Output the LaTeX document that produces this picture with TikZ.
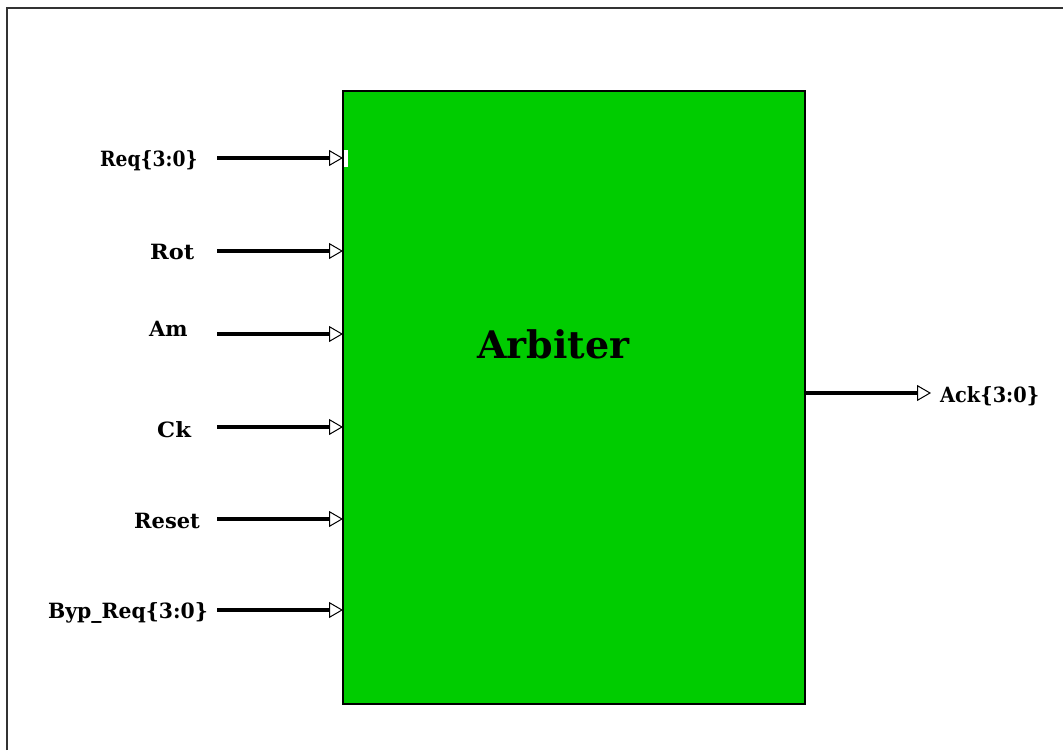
\documentclass[tikz,border=0pt]{standalone}
\usepackage{fontspec}
\setmainfont{DejaVu Serif}
\usetikzlibrary{arrows.meta}
\definecolor{boxgreen}{RGB}{0,204,0}
\tikzset{
  sig/.style={line width=3.2pt, -{Triangle[open,length=14pt,width=16pt,line width=1pt,fill=white]}},
  lbl/.style={anchor=base west, inner sep=0pt, font=\bfseries\fontsize{21}{21}\selectfont},
  blk/.style={draw=black, line width=2pt, fill=boxgreen},
}
\begin{document}
\begin{tikzpicture}[x=1pt,y=-1pt]
\useasboundingbox (0,0) rectangle (1063,750);
\draw[line width=2pt, black!80] (6.5,750) -- (6.5,7.5) -- (1063,7.5);
\draw[blk] (343,91) rectangle (805,704);
\node[anchor=base west, inner sep=0pt, font=\bfseries\fontsize{38}{38}\selectfont] (arb) at (477,358) {Arbiter};
\fill[white] (344,150) rectangle (348,166.5);
% ports on box
\coordinate (pReq) at (343,158);
\coordinate (pRot) at (343,251);
\coordinate (pAm) at (343,334);
\coordinate (pCk) at (343,427);
\coordinate (pRes) at (343,519);
\coordinate (pByp) at (343,610);
\coordinate (pAckS) at (805,393);
\coordinate (pAckE) at (931,393);
\coordinate (sReq) at (217,158);
\coordinate (sRot) at (217,251);
\coordinate (sAm) at (217,334);
\coordinate (sCk) at (217,427);
\coordinate (sRes) at (217,519);
\coordinate (sByp) at (217,610);
% labels
\node[lbl] (lReq) at (100,166) {\scalebox{0.89}[1]{Req\{3:0\}}};
\node[lbl] (lRot) at (150,259) {\scalebox{1.07}[1]{Rot}};
\node[lbl] (lAm) at (149,336) {Am};
\node[lbl] (lCk) at (157,437) {\scalebox{1.08}[1]{Ck}};
\node[lbl] (lRes) at (134,528) {Reset};
\node[lbl] (lByp) at (48,618) {\scalebox{0.97}[1]{Byp\_Req\{3:0\}}};
\node[lbl] (lAck) at (940,402) {\scalebox{0.92}[1]{Ack\{3:0\}}};
% connectors
\draw[sig] (sReq) -- (pReq);
\draw[sig] (sRot) -- (pRot);
\draw[sig] (sAm) -- (pAm);
\draw[sig] (sCk) -- (pCk);
\draw[sig] (sRes) -- (pRes);
\draw[sig] (sByp) -- (pByp);
\draw[sig] (pAckS) -- (pAckE);
\end{tikzpicture}
\end{document}
